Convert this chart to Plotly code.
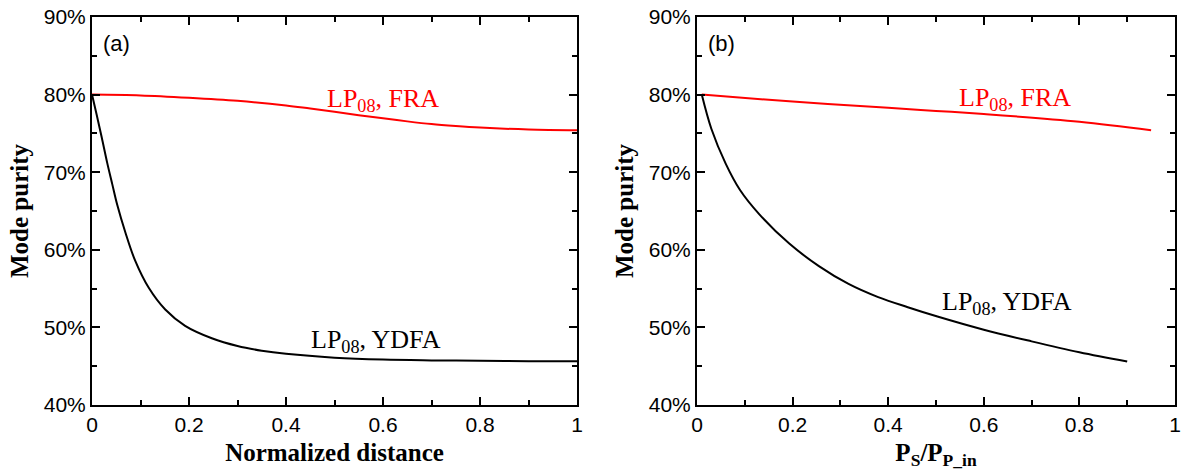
import plotly.graph_objects as go

# Panel (a): mode purity vs normalized distance
xa_fra = [0, 0.1, 0.2, 0.3, 0.4, 0.45, 0.5, 0.55, 0.6, 0.65, 0.7, 0.75, 0.8, 0.9, 1.0]
ya_fra = [80, 79.9, 79.6, 79.2, 78.6, 78.2, 77.8, 77.35, 76.95, 76.55, 76.2, 75.95, 75.75, 75.5, 75.4]
xa_ydfa = [0, 0.01, 0.02, 0.031, 0.042, 0.052, 0.069, 0.089, 0.117, 0.151, 0.192, 0.247, 0.3,
           0.35, 0.4, 0.5, 0.6, 0.7, 0.8, 0.9, 1.0]
ya_ydfa = [80, 77.3, 74.5, 71.3, 68.4, 65.8, 62.2, 58.6, 55.1, 52.3, 50.2, 48.6, 47.6,
           47.0, 46.6, 46.1, 45.85, 45.75, 45.7, 45.65, 45.65]

# Panel (b): mode purity vs Ps/Pp_in
xb_fra = [0.01, 0.2, 0.4, 0.5, 0.6, 0.8, 0.95]
yb_fra = [80, 79.1, 78.3, 77.9, 77.5, 76.5, 75.4]
xb_ydfa = [0.01, 0.03, 0.06, 0.09, 0.13, 0.193, 0.255, 0.317, 0.379, 0.441, 0.503,
           0.6, 0.7, 0.8, 0.9]
yb_ydfa = [80, 75.6, 71.1, 67.7, 64.6, 60.8, 57.9, 55.6, 53.9, 52.6, 51.4,
           49.7, 48.2, 46.8, 45.6]

y_ticks = [40, 50, 60, 70, 80, 90]
y_ticklabels = ["40%", "50%", "60%", "70%", "80%", "90%"]
x_ticks = [0, 0.2, 0.4, 0.6, 0.8, 1]
x_ticklabels = ["0", "0.2", "0.4", "0.6", "0.8", "1"]

fig = go.Figure()
RED = "#ff0000"
BLK = "#000000"

fig.add_trace(go.Scatter(x=xa_fra, y=ya_fra, mode="lines", line=dict(color=RED, width=2, shape="spline"),
                         xaxis="x", yaxis="y", showlegend=False))
fig.add_trace(go.Scatter(x=xa_ydfa, y=ya_ydfa, mode="lines", line=dict(color=BLK, width=2, shape="spline"),
                         xaxis="x", yaxis="y", showlegend=False))
fig.add_trace(go.Scatter(x=xb_fra, y=yb_fra, mode="lines", line=dict(color=RED, width=2, shape="spline"),
                         xaxis="x2", yaxis="y2", showlegend=False))
fig.add_trace(go.Scatter(x=xb_ydfa, y=yb_ydfa, mode="lines", line=dict(color=BLK, width=2, shape="spline"),
                         xaxis="x2", yaxis="y2", showlegend=False))

W, H = 1184, 474
tickfont = dict(family="Liberation Sans, Arial", size=21, color="black")
titlefont = dict(family="Liberation Serif, Times New Roman", size=25, color="black")

def xaxis(domain, anchor, title):
    return dict(domain=domain, anchor=anchor, range=[0, 1], tickmode="array",
                tickvals=x_ticks, ticktext=x_ticklabels, ticks="inside", ticklen=8, tickwidth=2,
                tickcolor="black", showline=True, linecolor="black", linewidth=2, mirror="ticks",
                showgrid=False, zeroline=False, tickfont=tickfont, ticklabeloverflow="allow",
                minor=dict(ticks="inside", dtick=0.1, tick0=0, ticklen=5, tickwidth=2, tickcolor="black"),
                title=dict(text=title, font=titlefont, standoff=8), automargin=False)

def yaxis(domain, anchor):
    return dict(domain=domain, anchor=anchor, range=[40, 90], tickmode="array",
                tickvals=y_ticks, ticktext=y_ticklabels, ticks="inside", ticklen=8, tickwidth=2,
                tickcolor="black", showline=True, linecolor="black", linewidth=2, mirror="ticks",
                showgrid=False, zeroline=False, tickfont=tickfont, ticklabeloverflow="allow",
                minor=dict(ticks="inside", dtick=5, tick0=40, ticklen=5, tickwidth=2, tickcolor="black"),
                title=dict(text="<b>Mode purity</b>", font=titlefont, standoff=8), automargin=False)

ydom = [1 - 405 / H, 1 - 17 / H]
fig.update_layout(
    width=W, height=H,
    margin=dict(l=0, r=0, t=0, b=0),
    paper_bgcolor="white", plot_bgcolor="white",
    xaxis=xaxis([92 / W, 577 / W], "y", "<b>Normalized distance</b>"),
    yaxis=yaxis(ydom, "x"),
    xaxis2=xaxis([697 / W, 1175 / W], "y2", "<b>P<sub>S</sub>/P<sub>P_in</sub></b>"),
    yaxis2=yaxis(ydom, "x2"),
)

lab_font = dict(family="Liberation Serif, Times New Roman", size=26)
annots = [
    dict(x=0.05, y=86.6, xref="x", yref="y", text="(a)", showarrow=False,
         font=dict(family="Liberation Sans, Arial", size=22, color="black")),
    dict(x=0.052, y=86.6, xref="x2", yref="y2", text="(b)", showarrow=False,
         font=dict(family="Liberation Sans, Arial", size=22, color="black")),
    dict(x=0.6, y=79.3, xref="x", yref="y", text="LP<sub>08</sub>, FRA", showarrow=False,
         font=dict(lab_font, color=RED)),
    dict(x=0.585, y=48.3, xref="x", yref="y", text="LP<sub>08</sub>, YDFA", showarrow=False,
         font=dict(lab_font, color=BLK)),
    dict(x=0.665, y=79.4, xref="x2", yref="y2", text="LP<sub>08</sub>, FRA", showarrow=False,
         font=dict(lab_font, color=RED)),
    dict(x=0.648, y=53.2, xref="x2", yref="y2", text="LP<sub>08</sub>, YDFA", showarrow=False,
         font=dict(lab_font, color=BLK)),
]
fig.update_layout(annotations=annots)

fig.write_html("out.html")
